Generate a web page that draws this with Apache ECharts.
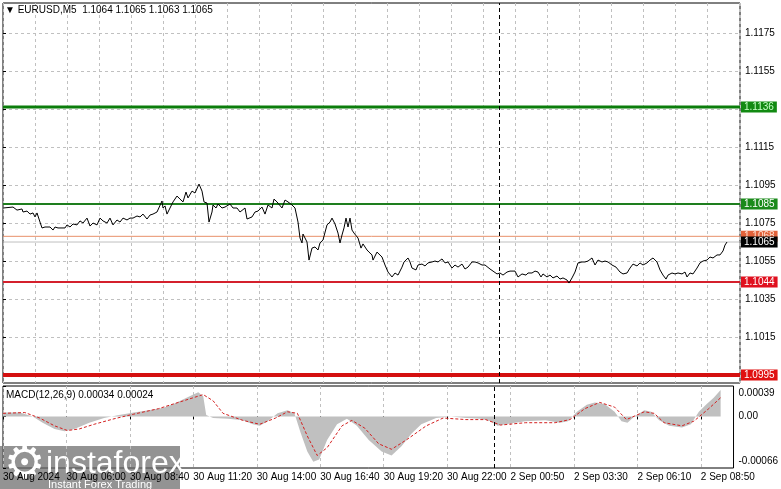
<!DOCTYPE html>
<html>
<head>
<meta charset="utf-8">
<script src="https://cdn.jsdelivr.net/npm/echarts@6/dist/echarts.min.js"></script>
<style>
html,body{margin:0;padding:0;background:#fff;}
#c{width:781px;height:489px;}
</style>
</head>
<body>
<div id="c"></div>
<script>
// ---------- DATA ----------
const titleText = '\u25BC EURUSD,M5  1.1064 1.1065 1.1063 1.1065';
const macdTitle = 'MACD(12,26,9) 0.00034 0.00024';

// price line: bar index (M5 bars from the left edge) and close price
const priceBars = [0,5,7,9.5,10,12,13.5,15,16,17,18.5,19.5,21,23.5,25,26,27.5,29.5,31,32,33.5,35,37,38.5,40,42,43.5,45,47,48.5,50,52,53.5,55,57,58.5,60,62,63.5,65,67,68.5,70,72,73.5,75,77,78,79.5,80,81,82,83.5,85,87,88.5,90,91.5,92.5,94.5,96,98,99.5,100.5,102,103,104.5,105,106.5,107.5,109.5,111,113.5,115,117,118.5,121,122,124.5,126,127.5,129.5,131,132.5,134.5,135.5,137,138,139.5,141,142.5,144.5,146,147.5,148.5,149.5,150,151,152,153,154.5,156,157.5,158.5,160,162,163.5,164.5,166,167.5,168.5,169.5,170.5,171.5,172.5,173.5,174.5,175.5,177.5,179,180,182,183,184.5,185,187,189.5,191,192.5,194.5,196,197.5,199.5,200.5,202.5,203.5,204.5,206.5,207.5,209.5,211,212.5,214.5,216,217.5,219.5,221,222.5,224.5,226,227.5,229.5,231,232.5,234.5,236,237.5,239.5,241,243.5,245,247,248.5,250,252,253.5,256,257.5,259.5,260,261.5,262.5,264.5,266,267.5,269,270,272,273.5,275,277,278.5,280,282,283,284.5,286,287.5,289.5,291,292.5,294.5,296,297.5,299.5,301,302.5,304.5,306.5,308.5,310,312,313.5,315,317,318.5,320,322,323.5,325,327,328.5,330,331.5,332.5,334.5,336,337.5,339.5,341,342,343.5,345,347,348.5,350,352,353.5,355,357,358.5,360,361,362];
const prices = [1.10829,1.10834,1.10818,1.10824,1.10808,1.10813,1.10797,1.10803,1.10782,1.10803,1.10755,1.10724,1.10729,1.10729,1.10713,1.10729,1.10724,1.10724,1.10724,1.10740,1.10729,1.10745,1.10740,1.10761,1.10750,1.10776,1.10734,1.10750,1.10740,1.10776,1.10761,1.10750,1.10776,1.10740,1.10766,1.10755,1.10776,1.10766,1.10776,1.10776,1.10787,1.10782,1.10797,1.10771,1.10792,1.10797,1.10808,1.10818,1.10866,1.10829,1.10840,1.10797,1.10829,1.10861,1.10892,1.10876,1.10861,1.10913,1.10882,1.10918,1.10908,1.10955,1.10918,1.10861,1.10855,1.10755,1.10808,1.10845,1.10829,1.10850,1.10829,1.10834,1.10850,1.10829,1.10829,1.10808,1.10829,1.10771,1.10782,1.10808,1.10813,1.10834,1.10797,1.10845,1.10829,1.10876,1.10861,1.10866,1.10829,1.10871,1.10861,1.10845,1.10829,1.10755,1.10671,1.10645,1.10692,1.10697,1.10650,1.10555,1.10618,1.10624,1.10608,1.10645,1.10661,1.10740,1.10755,1.10776,1.10745,1.10697,1.10645,1.10687,1.10724,1.10776,1.10729,1.10776,1.10713,1.10697,1.10671,1.10618,1.10640,1.10608,1.10597,1.10582,1.10555,1.10597,1.10571,1.10529,1.10492,1.10466,1.10487,1.10476,1.10518,1.10545,1.10566,1.10545,1.10513,1.10503,1.10529,1.10534,1.10524,1.10540,1.10545,1.10550,1.10545,1.10561,1.10540,1.10545,1.10513,1.10529,1.10518,1.10534,1.10508,1.10518,1.10545,1.10545,1.10540,1.10529,1.10529,1.10508,1.10497,1.10482,1.10487,1.10476,1.10492,1.10497,1.10497,1.10466,1.10482,1.10492,1.10476,1.10487,1.10487,1.10497,1.10492,1.10466,1.10482,1.10466,1.10476,1.10461,1.10471,1.10455,1.10461,1.10450,1.10434,1.10461,1.10492,1.10540,1.10545,1.10545,1.10550,1.10566,1.10529,1.10555,1.10545,1.10550,1.10545,1.10529,1.10518,1.10492,1.10482,1.10487,1.10513,1.10534,1.10524,1.10540,1.10529,1.10540,1.10555,1.10566,1.10545,1.10503,1.10476,1.10455,1.10476,1.10487,1.10482,1.10487,1.10482,1.10492,1.10466,1.10487,1.10482,1.10513,1.10540,1.10550,1.10555,1.10571,1.10566,1.10582,1.10582,1.10603,1.10634,1.10650];

// MACD histogram (main) and signal line
const histBars = [0,8.5,15,20,26,31,36,43.5,51,58.5,66,73.5,81,86,91,96,98.5,101,102.5,106,113.5,121,126,129.5,133.5,138.5,143.5,147,150,153.5,156.5,159.5,163.5,168.5,173.5,178.5,184.5,191,196,201,206,211,218.5,226,233.5,241,246,249.5,253.5,263.5,273.5,281,285,289.5,294.5,298.5,303.5,308.5,312,315,318.5,323.5,327,331,336,342.5,347,351,355,358.5,362];
const macdHist = [0.00005,0.00005,0.0,-0.00008,-0.00016,-0.00019,-0.00016,-0.00008,-0.00002,0.00002,0.00005,0.00008,0.00011,0.00016,0.00022,0.00028,0.00031,0.00026,0.00002,-0.00002,-0.00003,-0.00005,-0.00010,-0.00012,-0.00006,0.00004,0.00008,0.00004,-0.00020,-0.00045,-0.00058,-0.00055,-0.00030,-0.00010,-0.00003,-0.00012,-0.00030,-0.00045,-0.00050,-0.00038,-0.00022,-0.00010,-0.00002,0.0,-0.00002,-0.00003,-0.00006,-0.00012,-0.00010,-0.00006,-0.00005,-0.00008,-0.00006,0.00006,0.00015,0.00018,0.00016,0.00006,-0.00006,-0.00008,0.0,0.00008,0.00006,-0.00005,-0.00012,-0.00014,-0.00010,0.00006,0.00016,0.00024,0.00034];
const signalBars = [0,11,18.5,26,32.5,38.5,46,56,66,78.5,91,101,106,111,121,129.5,137.5,143.5,148.5,153.5,158.5,163.5,171,176,182.5,189.5,196,203.5,213.5,222,233.5,243.5,251,263.5,278.5,286,293.5,301,308.5,314.5,323.5,328.5,333.5,342.5,348.5,356,362];
const macdSignal = [0.00004,0.00005,-0.00002,-0.00012,-0.00018,-0.00016,-0.00010,-0.00003,0.00003,0.00010,0.00020,0.00028,0.00020,0.00004,-0.00005,-0.00010,-0.00002,0.00006,0.00004,-0.00025,-0.00050,-0.00040,-0.00012,-0.00005,-0.00015,-0.00035,-0.00042,-0.00030,-0.00012,-0.00002,-0.00004,-0.00004,-0.00011,-0.00008,-0.00008,-0.00004,0.00010,0.00018,0.00012,-0.00004,0.00006,0.00004,-0.00008,-0.00012,-0.00006,0.00010,0.00024];

// time axis
const xTickBars = [0,32,64,96,128,160,192,224,256,288,320,352];
const xTickLabels = ['30 Aug 2024','30 Aug 06:00','30 Aug 08:40','30 Aug 11:20','30 Aug 14:00','30 Aug 16:40','30 Aug 19:20','30 Aug 22:00','2 Sep 00:50','2 Sep 03:30','2 Sep 06:10','2 Sep 08:50'];
const separatorBar = 248;

// price axis
const priceGridTicks = [1.0995,1.1015,1.1035,1.1055,1.1075,1.1095,1.1115,1.1135,1.1155,1.1175];
const priceTickLabels = [1.1015,1.1035,1.1055,1.1075,1.1095,1.1115,1.1155,1.1175];
const levelValues = [1.1136,1.1085,1.1068,1.1044,1.0995];
const bidPrice = 1.1065;

// MACD axis
const macdTickLabels = [0.00039,0,-0.00066];

// ---------- CHART ----------
const FONT = 'Liberation Sans';
const FS = 10;
const X_MIN = 0, X_MAX = 368.5;
const levelStyles = [
  {line:'#0b7d0b', width:3, bg:'#128a12', fg:'#c8ffc8'},
  {line:'#1e7e1e', width:2, bg:'#1a8a1a', fg:'#ffffff'},
  {line:'#e8906a', width:1, bg:'#e2623a', fg:'#ffe0d0'},
  {line:'#d4202c', width:2, bg:'#e0101e', fg:'#ffffff'},
  {line:'#d41010', width:4, bg:'#e01010', fg:'#ffffff'}
];
function levelSeries(v, s, z){
  return {
    type:'line', xAxisIndex:0, yAxisIndex:0, silent:true, z:z,
    data:[[X_MIN, v],[X_MAX, v]], symbol:'none',
    lineStyle:{color:s.line, width:s.width, type:'solid'},
    endLabel:{show:true, distance:1, formatter: v.toFixed(4),
      backgroundColor:s.bg, color:s.fg, padding:[1,3,0,3], fontFamily:FONT, fontSize:FS}
  };
}
const zip = (a,b)=>a.map((x,i)=>[x,b[i]]);
const dashGrid = {color:'#c0c0c0', width:1, type:[3,3]};
const macdMax = macdTickLabels[0], macdMin = macdTickLabels[2];
const sepLine = {xAxis: separatorBar, lineStyle:{color:'#000', width:1, type:[4,3]}, label:{show:false}};

const series = [];
// bid line first (underneath level lines), price line
series.push({
  type:'line', name:'price', xAxisIndex:0, yAxisIndex:0, data:zip(priceBars,prices),
  symbol:'none', lineStyle:{color:'#000', width:1}, z:6,
  markLine:{silent:true, symbol:'none', animation:false, data:[sepLine]}
});
levelValues.forEach((v,i)=>series.push(levelSeries(v, levelStyles[i], 3)));
series.push(levelSeries(bidPrice, {line:'#c0c0c0', width:1, bg:'#000', fg:'#fff'}, 4));
series.push({type:'line', name:'macd', xAxisIndex:1, yAxisIndex:1, data:zip(histBars,macdHist),
  symbol:'none', lineStyle:{width:0, color:'#c0c0c0'},
  areaStyle:{color:'#c0c0c0', opacity:1, origin:0}, z:2,
  markLine:{silent:true, symbol:'none', animation:false, data:[sepLine]}});
series.push({type:'line', name:'signal', xAxisIndex:1, yAxisIndex:1, data:zip(signalBars,macdSignal),
  symbol:'none', lineStyle:{color:'#d42020', width:1, type:[3,2]}, z:3});

const option = {
  animation:false,
  backgroundColor:'#fff',
  grid:[
    {left:3, right:41, top:3, height:380, show:true, borderColor:'#000', borderWidth:1},
    {left:3, right:41, top:386, height:82, show:true, borderColor:'#000', borderWidth:1}
  ],
  xAxis:[
    {type:'value', gridIndex:0, min:X_MIN, max:X_MAX, interval:16,
      axisLine:{show:false}, axisTick:{show:false}, axisLabel:{show:false},
      splitLine:{show:true, lineStyle:dashGrid}},
    {type:'value', gridIndex:1, min:X_MIN, max:X_MAX, interval:16,
      axisLine:{show:false},
      axisTick:{show:true, customValues:xTickBars, length:3, lineStyle:{color:'#000'}},
      axisLabel:{show:true, customValues:xTickBars, align:'left', margin:4,
        formatter:(v)=>{const i=xTickBars.indexOf(Math.round(v)); return i>=0?xTickLabels[i]:'';},
        color:'#000', fontFamily:FONT, fontSize:FS},
      splitLine:{show:true, lineStyle:dashGrid}}
  ],
  yAxis:[
    {type:'value', gridIndex:0, position:'right', min:1.09908, max:1.11908,
      axisLine:{show:false},
      axisTick:{show:true, customValues:priceGridTicks, length:3, lineStyle:{color:'#000'}},
      axisLabel:{show:true, customValues:priceTickLabels, margin:5, color:'#000',
        fontFamily:FONT, fontSize:FS, formatter:(v)=>v.toFixed(4)},
      splitLine:{show:true, lineStyle:dashGrid}},
    {type:'value', gridIndex:1, position:'right', min:macdMin, max:macdMax,
      axisLine:{show:false},
      axisTick:{show:true, customValues:macdTickLabels, length:3, lineStyle:{color:'#000'}},
      axisLabel:{show:true, customValues:macdTickLabels, margin:5, color:'#000',
        fontFamily:FONT, fontSize:FS,
        formatter:(v)=>{
          if (Math.abs(v-macdMax)<1e-9) return '{t|'+v.toFixed(5)+'}';
          if (Math.abs(v-macdMin)<1e-9) return '{b|'+v.toFixed(5)+'}';
          return '{m|0.00}';
        },
        rich:{
          t:{padding:[14,0,0,0], fontFamily:FONT, fontSize:FS, color:'#000'},
          b:{padding:[0,0,14,0], fontFamily:FONT, fontSize:FS, color:'#000'},
          m:{fontFamily:FONT, fontSize:FS, color:'#000'}
        }},
      splitLine:{show:false}}
  ],
  series: series,
  graphic:[
    {type:'text', left:5, top:5, z:10, style:{text:titleText, fontFamily:FONT, fontSize:FS, fill:'#000'}},
    {type:'text', left:6, top:390, z:10, style:{text:macdTitle, fontFamily:FONT, fontSize:FS, fill:'#000'}},
    {type:'group', left:0, top:443, z:20, children:[
      {type:'rect', shape:{x:0, y:0, width:180, height:46}, style:{fill:'rgba(105,105,105,0.72)'}},
      {type:'text', x:4, y:-3, style:{text:'\u2699', fontFamily:'DejaVu Sans', fontSize:46, fill:'#fff'}},
      {type:'text', x:46, y:2, style:{text:'instaforex', fontFamily:FONT, fontSize:32, fill:'#fff'}},
      {type:'text', x:48, y:33, style:{text:'Instant Forex Trading', fontFamily:FONT, fontSize:11, fill:'#fff'}}
    ]}
  ]
};
const chart = echarts.init(document.getElementById('c'), null, {renderer:'canvas'});
chart.setOption(option);
</script>
</body>
</html>
